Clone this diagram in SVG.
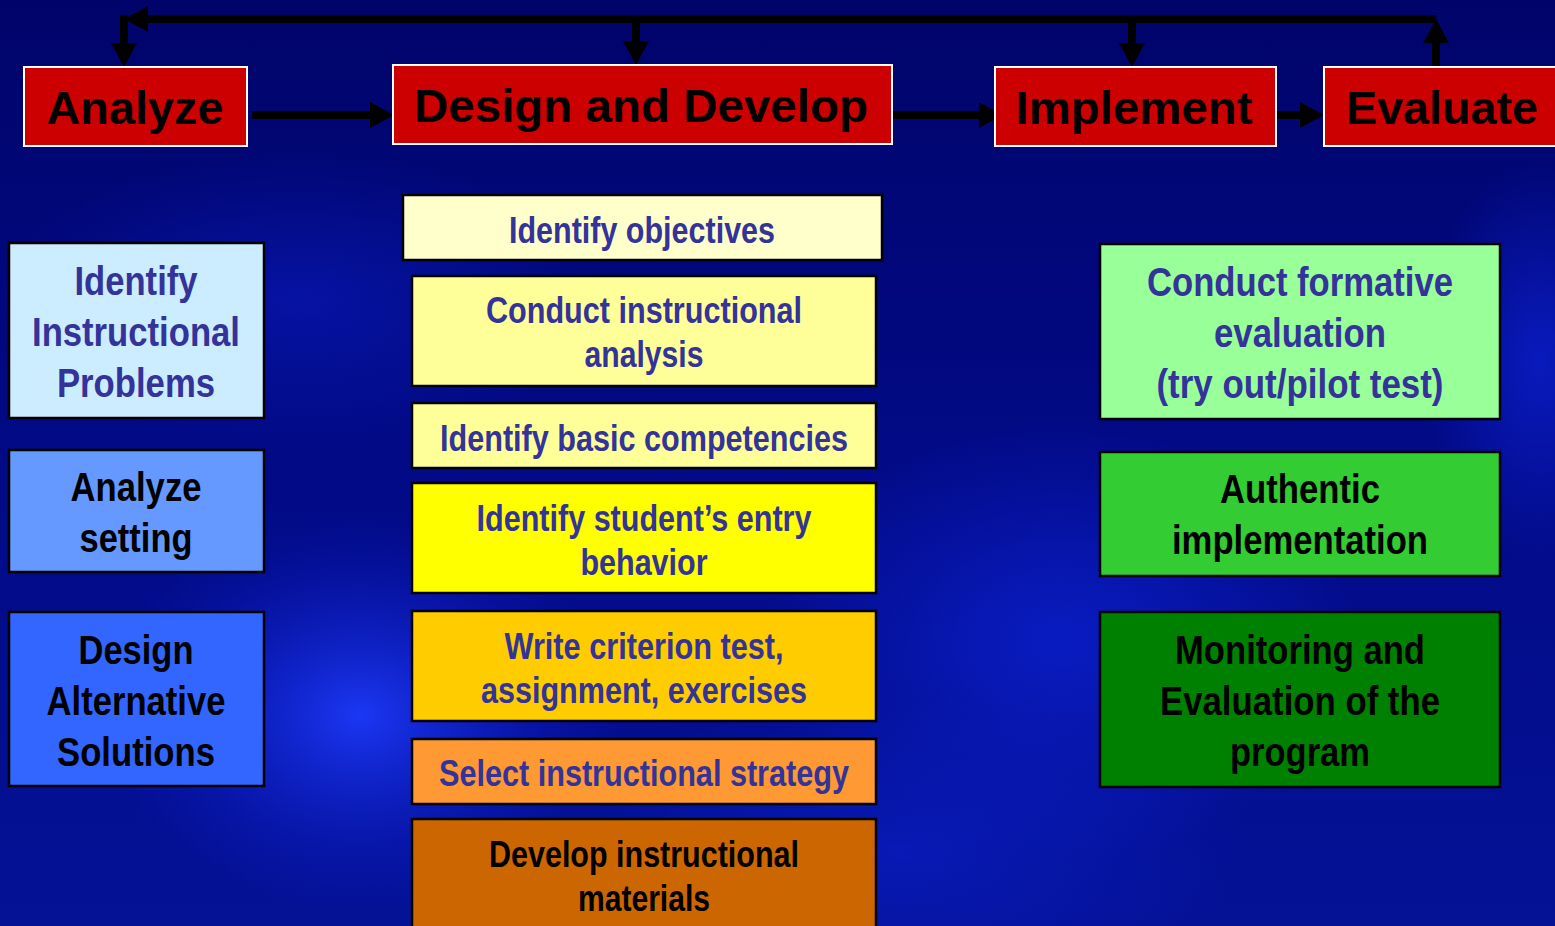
<svg xmlns="http://www.w3.org/2000/svg" width="1555" height="926" viewBox="0 0 1555 926">
<defs>
<radialGradient id="g1" cx="0.5" cy="0.5" r="0.5"><stop offset="0" stop-color="#1e3cff" stop-opacity="0.9"/><stop offset="1" stop-color="#0a18c8" stop-opacity="0"/></radialGradient>
<radialGradient id="g2" cx="0.5" cy="0.5" r="0.5"><stop offset="0" stop-color="#0c22d8" stop-opacity="0.7"/><stop offset="1" stop-color="#0c22d8" stop-opacity="0"/></radialGradient>
<linearGradient id="bg" x1="0" y1="0" x2="0" y2="1"><stop offset="0" stop-color="#00046a"/><stop offset="0.5" stop-color="#020a86"/><stop offset="1" stop-color="#041296"/></linearGradient>
<marker id="ah" markerUnits="userSpaceOnUse" markerWidth="24" markerHeight="26" refX="0" refY="13" orient="auto" viewBox="0 0 24 26"><path d="M0,0 L24,13 L0,26 Z" fill="#000"/></marker>
<style>
.hdr{fill:#CC0000;stroke:#fff;stroke-width:2}
.hdrt{font-family:"Liberation Sans",Arial,sans-serif;font-weight:bold;font-size:46px;fill:#000;text-anchor:middle}
.box{stroke:#000;stroke-width:2.5}
.t{font-family:"Liberation Sans Narrow","Liberation Sans",Arial,sans-serif;font-weight:bold;text-anchor:middle}
.big{font-size:40px}
.mid{font-size:36px}
.blu{fill:#333399}
.blk{fill:#000}
.conn{stroke:#000;stroke-width:8;fill:none}
</style>
</defs>
<rect width="1555" height="926" fill="url(#bg)"/>
<ellipse cx="360" cy="715" rx="260" ry="200" fill="url(#g1)"/>
<ellipse cx="1060" cy="640" rx="300" ry="220" fill="url(#g2)"/>
<ellipse cx="1540" cy="360" rx="120" ry="200" fill="url(#g2)"/>
<ellipse cx="300" cy="300" rx="300" ry="150" fill="url(#g2)" opacity="0.6"/>
<ellipse cx="900" cy="850" rx="350" ry="150" fill="url(#g2)" opacity="0.7"/>

<g id="connectors">
<path class="conn" d="M1436,19 H148" marker-end="url(#ah)"/>
<path class="conn" d="M124,15 V43" marker-end="url(#ah)"/>
<path class="conn" d="M636,19 V41" marker-end="url(#ah)"/>
<path class="conn" d="M1132,19 V43" marker-end="url(#ah)"/>
<path class="conn" d="M1436,66 V43" marker-end="url(#ah)"/>
<path class="conn" d="M252,115 H370" marker-end="url(#ah)"/>
<path class="conn" d="M892,115 H979" marker-end="url(#ah)"/>
<path class="conn" d="M1276,115 H1300" marker-end="url(#ah)"/>
</g>

<g id="analyze"><rect class="hdr" x="24" y="67" width="223" height="79"/><text class="hdrt" x="135" y="124" textLength="177" lengthAdjust="spacingAndGlyphs">Analyze</text></g>
<g id="design-develop"><rect class="hdr" x="393" y="65" width="499" height="79"/><text class="hdrt" x="641" y="122" textLength="454" lengthAdjust="spacingAndGlyphs">Design and Develop</text></g>
<g id="implement"><rect class="hdr" x="995" y="67" width="281" height="79"/><text class="hdrt" x="1134" y="124" textLength="237" lengthAdjust="spacingAndGlyphs">Implement</text></g>
<g id="evaluate"><rect class="hdr" x="1324" y="67" width="240" height="79"/><text class="hdrt" x="1442" y="124" textLength="192" lengthAdjust="spacingAndGlyphs">Evaluate</text></g>

<g id="identify-problems"><rect class="box" x="9" y="243" width="255" height="175" fill="#CCECFF"/>
<text class="t big blu" x="136" y="295" textLength="123" lengthAdjust="spacingAndGlyphs">Identify</text>
<text class="t big blu" x="136" y="346" textLength="208" lengthAdjust="spacingAndGlyphs">Instructional</text>
<text class="t big blu" x="136" y="397" textLength="158" lengthAdjust="spacingAndGlyphs">Problems</text></g>
<g id="analyze-setting"><rect class="box" x="9" y="450" width="255" height="122" fill="#6699FF"/>
<text class="t big blk" x="136" y="501" textLength="131" lengthAdjust="spacingAndGlyphs">Analyze</text>
<text class="t big blk" x="136" y="552" textLength="113" lengthAdjust="spacingAndGlyphs">setting</text></g>
<g id="design-alternatives"><rect class="box" x="9" y="612" width="255" height="174" fill="#3366FF"/>
<text class="t big blk" x="136" y="664" textLength="115" lengthAdjust="spacingAndGlyphs">Design</text>
<text class="t big blk" x="136" y="715" textLength="179" lengthAdjust="spacingAndGlyphs">Alternative</text>
<text class="t big blk" x="136" y="766" textLength="158" lengthAdjust="spacingAndGlyphs">Solutions</text></g>

<g id="identify-objectives"><rect class="box" x="403" y="195" width="479" height="65" fill="#FFFFCC"/>
<text class="t mid blu" x="642" y="243" textLength="266" lengthAdjust="spacingAndGlyphs">Identify objectives</text></g>
<g id="instructional-analysis"><rect class="box" x="412" y="276" width="464" height="110" fill="#FFFF99"/>
<text class="t mid blu" x="644" y="323" textLength="316" lengthAdjust="spacingAndGlyphs">Conduct instructional</text>
<text class="t mid blu" x="644" y="367" textLength="119" lengthAdjust="spacingAndGlyphs">analysis</text></g>
<g id="basic-competencies"><rect class="box" x="412" y="403" width="464" height="65" fill="#FFFF99"/>
<text class="t mid blu" x="644" y="451" textLength="408" lengthAdjust="spacingAndGlyphs">Identify basic competencies</text></g>
<g id="entry-behavior"><rect class="box" x="412" y="483" width="464" height="110" fill="#FFFF00"/>
<text class="t mid blu" x="644" y="531" textLength="335" lengthAdjust="spacingAndGlyphs">Identify student’s entry</text>
<text class="t mid blu" x="644" y="575" textLength="127" lengthAdjust="spacingAndGlyphs">behavior</text></g>
<g id="criterion-test"><rect class="box" x="412" y="611" width="464" height="110" fill="#FFCC00"/>
<text class="t mid blu" x="644" y="659" textLength="279" lengthAdjust="spacingAndGlyphs">Write criterion test,</text>
<text class="t mid blu" x="644" y="703" textLength="326" lengthAdjust="spacingAndGlyphs">assignment, exercises</text></g>
<g id="instructional-strategy"><rect class="box" x="412" y="739" width="464" height="65" fill="#FF9933"/>
<text class="t mid blu" x="644" y="786" textLength="410" lengthAdjust="spacingAndGlyphs">Select instructional strategy</text></g>
<g id="instructional-materials"><rect class="box" x="412" y="819" width="464" height="120" fill="#CC6600"/>
<text class="t mid blk" x="644" y="867" textLength="310" lengthAdjust="spacingAndGlyphs">Develop instructional</text>
<text class="t mid blk" x="644" y="911" textLength="132" lengthAdjust="spacingAndGlyphs">materials</text></g>

<g id="formative-evaluation"><rect class="box" x="1100" y="244" width="400" height="175" fill="#99FF99"/>
<text class="t big blu" x="1300" y="296" textLength="306" lengthAdjust="spacingAndGlyphs">Conduct formative</text>
<text class="t big blu" x="1300" y="347" textLength="172" lengthAdjust="spacingAndGlyphs">evaluation</text>
<text class="t big blu" x="1300" y="398" textLength="287" lengthAdjust="spacingAndGlyphs">(try out/pilot test)</text></g>
<g id="authentic-implementation"><rect class="box" x="1100" y="452" width="400" height="124" fill="#33CC33"/>
<text class="t big blk" x="1300" y="503" textLength="160" lengthAdjust="spacingAndGlyphs">Authentic</text>
<text class="t big blk" x="1300" y="554" textLength="256" lengthAdjust="spacingAndGlyphs">implementation</text></g>
<g id="monitoring-evaluation"><rect class="box" x="1100" y="612" width="400" height="175" fill="#008000"/>
<text class="t big blk" x="1300" y="664" textLength="250" lengthAdjust="spacingAndGlyphs">Monitoring and</text>
<text class="t big blk" x="1300" y="715" textLength="280" lengthAdjust="spacingAndGlyphs">Evaluation of the</text>
<text class="t big blk" x="1300" y="766" textLength="140" lengthAdjust="spacingAndGlyphs">program</text></g>
</svg>
